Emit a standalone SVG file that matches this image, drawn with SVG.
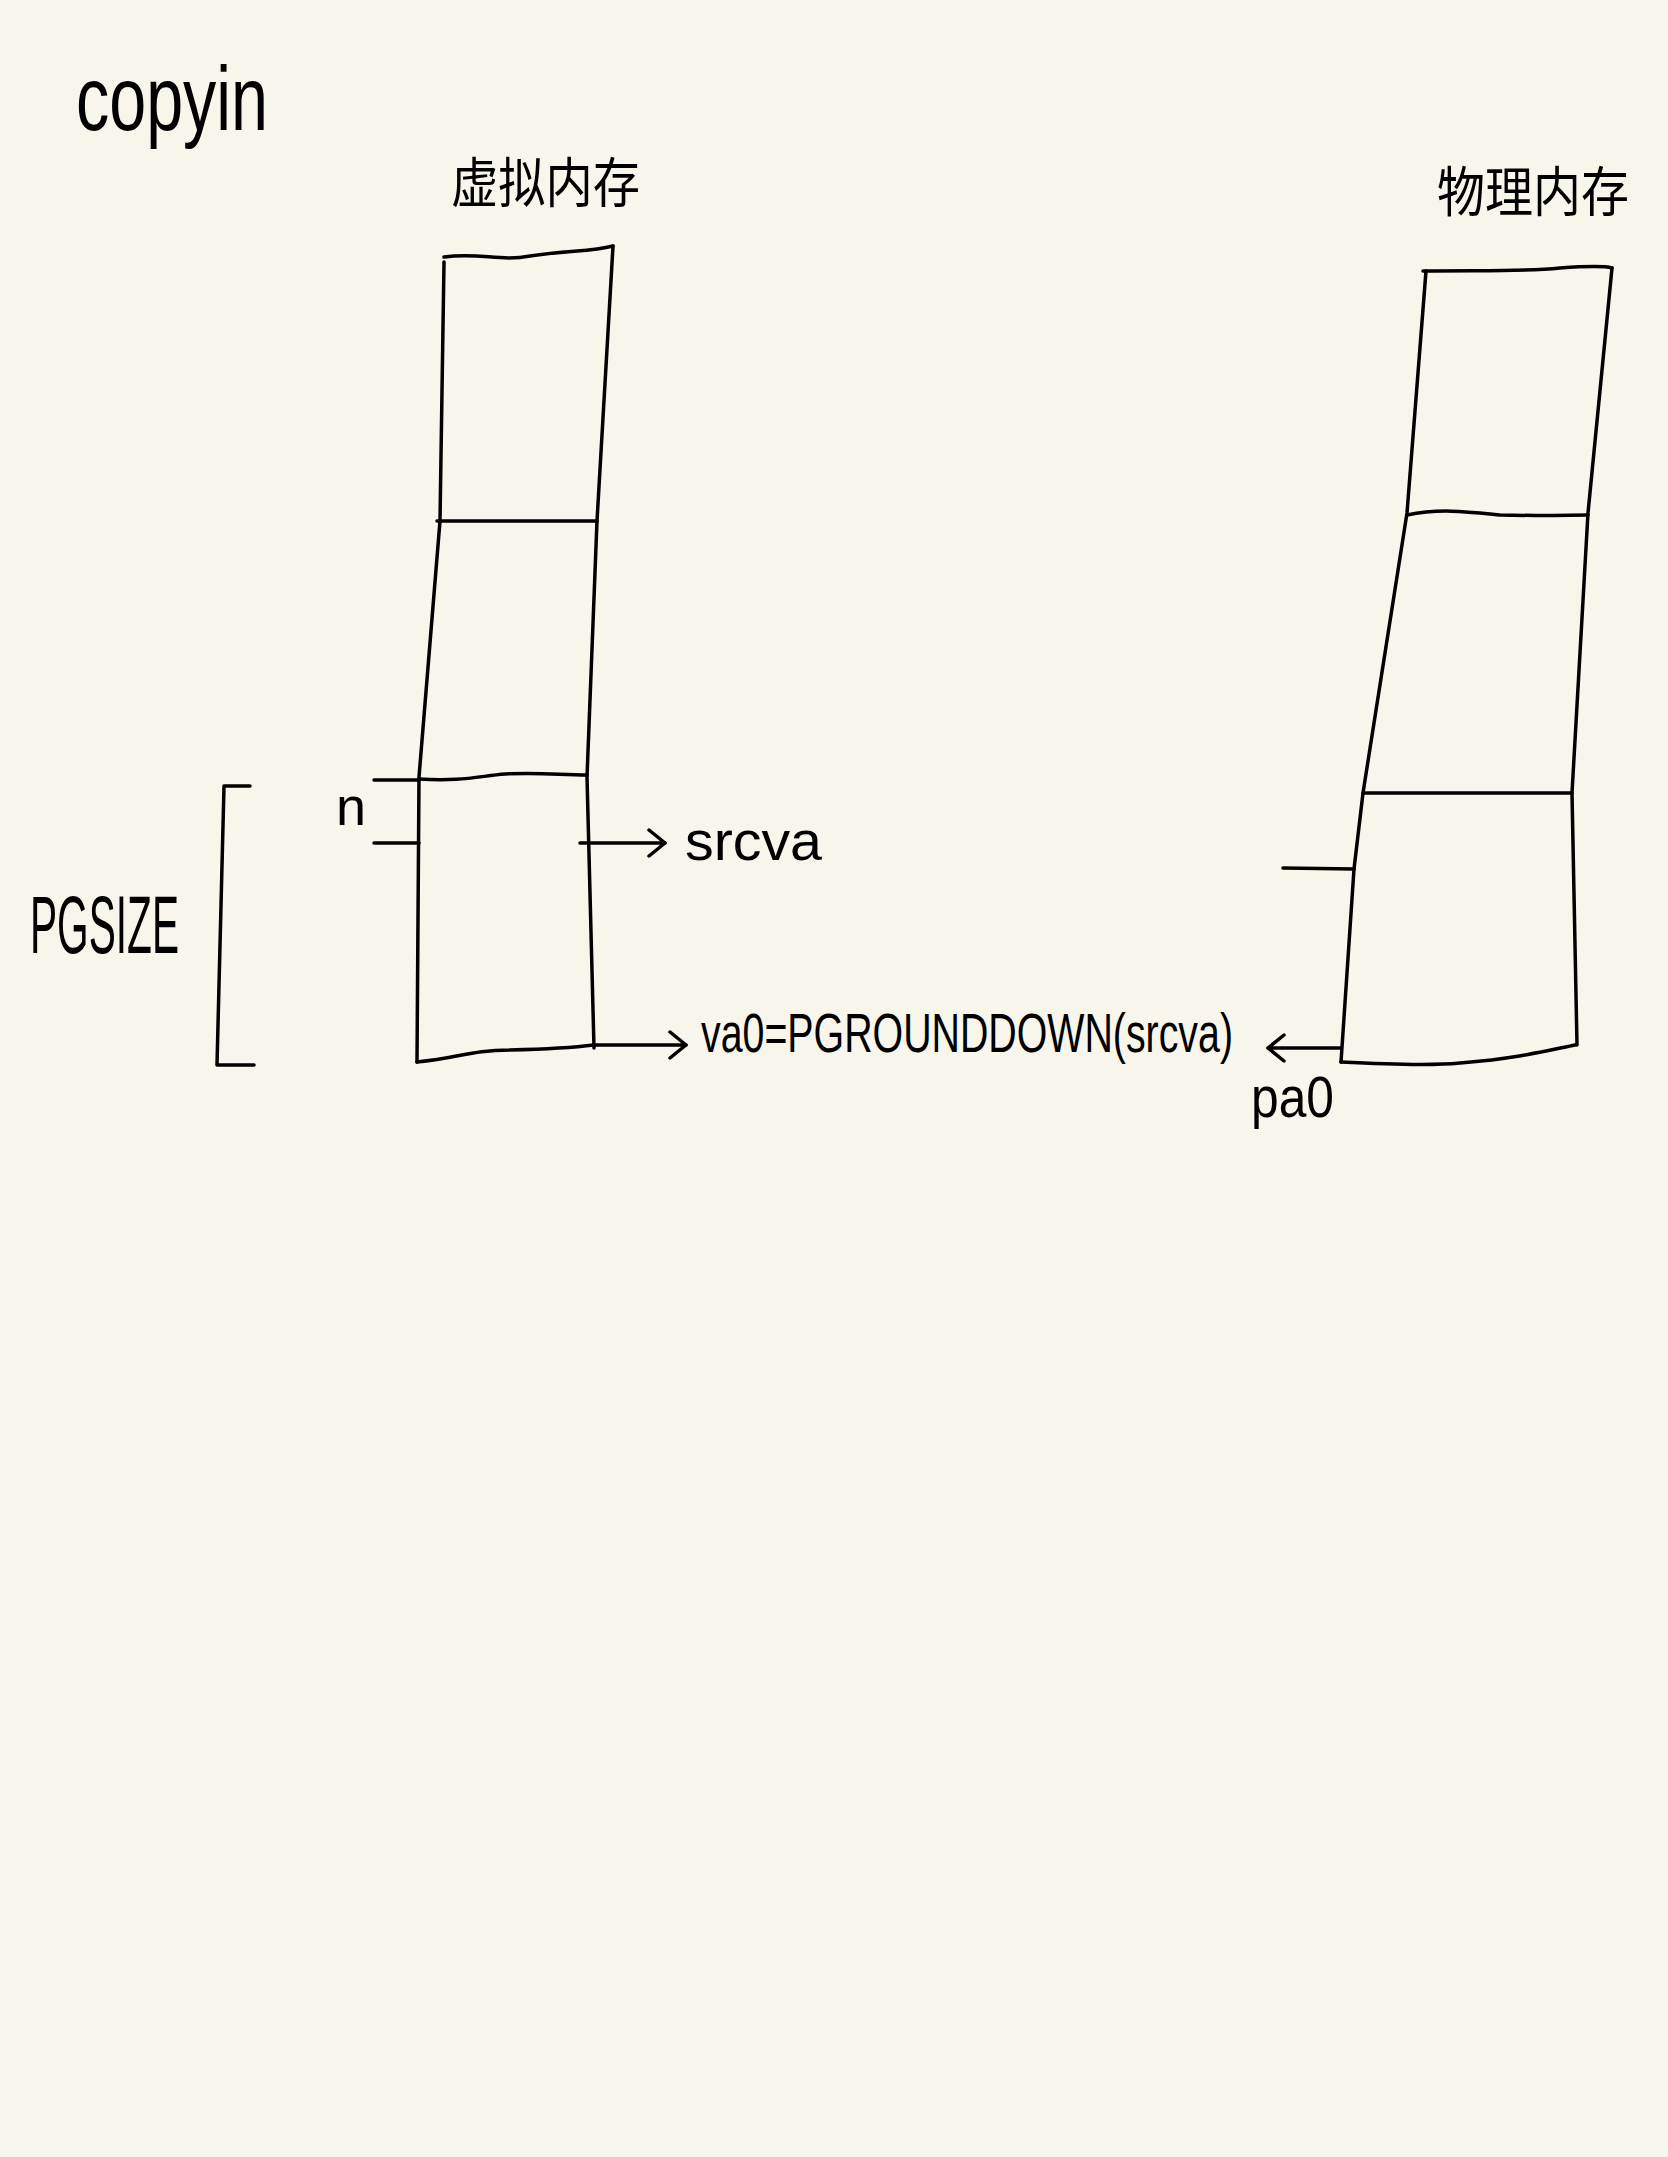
<svg xmlns="http://www.w3.org/2000/svg" width="1668" height="2157" viewBox="0 0 1668 2157">
<style>
.ink{fill:none;stroke:#000;stroke-width:3.5;stroke-linecap:round;stroke-linejoin:round}
.hw{font-family:"Liberation Sans","DejaVu Sans",sans-serif;fill:#000}
.cjk{font-family:"Noto Sans CJK SC","Liberation Sans",sans-serif;fill:#000}
</style>
<defs>
<marker id="open" viewBox="0 0 20 30" refX="18" refY="15" markerWidth="20" markerHeight="30" markerUnits="userSpaceOnUse" orient="auto">
<path d="M2,2 L18,15 L2,28" fill="none" stroke="#000" stroke-width="3.5" stroke-linecap="round" stroke-linejoin="round"/>
</marker>
</defs>
<rect width="1668" height="2157" fill="#F8F6EB"/>
<g id="title">
<text class="hw" x="76" y="130" font-size="90" textLength="192" lengthAdjust="spacingAndGlyphs">copyin</text>
</g>
<g id="virtual-memory">
<text class="cjk" x="451" y="203" font-size="54" textLength="189" lengthAdjust="spacingAndGlyphs">虚拟内存</text>
<path class="ink" d="M444,257 C480,252 500,262 530,256 C570,250 590,252 613,246"/>
<polyline class="ink" points="444,262 440,521 419,777 417,1062"/>
<polyline class="ink" points="613,246 597,521 587,777 594,1048"/>
<path class="ink" d="M437,521 L597,521"/>
<path class="ink" d="M419,779 C460,782 480,776 505,774 C540,772 560,775 587,775"/>
<path class="ink" d="M417,1062 C460,1058 470,1050 510,1050 C550,1049 570,1048 594,1045"/>
<path class="ink" d="M374,780 L419,780" stroke-width="6"/>
<path class="ink" d="M374,843 L419,843"/>
<text class="hw" x="336" y="825" font-size="54">n</text>
</g>
<g id="pgsize">
<path class="ink" d="M250,786 L224,786 L217,1065 L254,1065"/>
<text class="hw" x="30" y="953" font-size="82" textLength="149" lengthAdjust="spacingAndGlyphs">PGSIZE</text>
</g>
<g id="physical-memory">
<text class="cjk" x="1437" y="212" font-size="54" textLength="192" lengthAdjust="spacingAndGlyphs">物理内存</text>
<path class="ink" d="M1423,271 C1480,270 1520,272 1560,268 C1590,266 1605,266 1612,268"/>
<polyline class="ink" points="1426,271 1407,513 1363,793 1354,869 1341,1062"/>
<polyline class="ink" points="1612,268 1588,513 1572,793 1577,1045"/>
<path class="ink" d="M1407,515 C1440,508 1470,512 1500,515 C1540,516 1570,515 1588,515"/>
<path class="ink" d="M1363,793 L1572,793"/>
<path class="ink" d="M1283,868 L1354,869"/>
<path class="ink" d="M1341,1062 C1380,1064 1430,1066 1460,1063 C1520,1058 1550,1050 1575,1045"/>
</g>
<g id="connectors">
<path class="ink" d="M580,843 L665,843" marker-end="url(#open)"/>
<path class="ink" d="M594,1045 L686,1045" marker-end="url(#open)"/>
<path class="ink" d="M1341,1048 L1268,1048" marker-end="url(#open)"/>
</g>
<g id="labels">
<text class="hw" x="685" y="860" font-size="56" textLength="137" lengthAdjust="spacingAndGlyphs">srcva</text>
<text class="hw" x="701" y="1052" font-size="56" textLength="532" lengthAdjust="spacingAndGlyphs">va0=PGROUNDDOWN(srcva)</text>
<text class="hw" x="1251" y="1117" font-size="58" textLength="83" lengthAdjust="spacingAndGlyphs">pa0</text>
</g>
</svg>
